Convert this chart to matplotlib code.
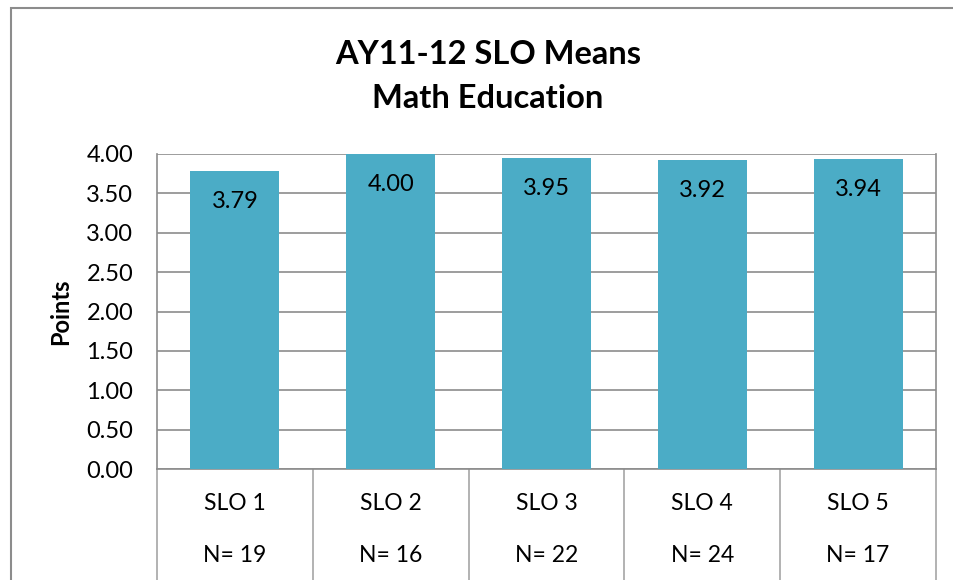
import matplotlib.pyplot as plt
from matplotlib.transforms import blended_transform_factory
from matplotlib.patches import Rectangle

# Data
categories = ["SLO 1", "SLO 2", "SLO 3", "SLO 4", "SLO 5"]
means = [3.79, 4.00, 3.95, 3.92, 3.94]
counts = [19, 16, 22, 24, 17]
yticks = [0.0, 0.5, 1.0, 1.5, 2.0, 2.5, 3.0, 3.5, 4.0]

plt.rcParams["font.family"] = ["Lato", "DejaVu Sans"]

W, H = 954, 580
fig = plt.figure(figsize=(W / 100, H / 100), dpi=100)

# outer chart frame (cut off at right and bottom like the reference)
fig.patches.append(Rectangle((11 / W, -0.1), 1.2, (H - 8) / H + 0.1,
                             transform=fig.transFigure, fill=False,
                             edgecolor="#8c8c8c", linewidth=1.5))

left, right, top, bottom = 157, 936, 154, 469
ax = fig.add_axes([left / W, (H - bottom) / H, (right - left) / W, (bottom - top) / H])

x = range(len(categories))
ax.bar(x, means, width=0.57, color="#4BACC6", zorder=3)
ax.set_xlim(-0.5, len(categories) - 0.5)
ax.set_ylim(0, 4)
ax.set_yticks(yticks)
ax.set_yticklabels([f"{v:.2f}" for v in yticks], fontsize=17)
ax.tick_params(axis="y", length=0, pad=17)
ax.set_xticks([])
ax.grid(axis="y", color="#8c8c8c", linewidth=1.2, zorder=0)
for s in ["left", "right", "bottom"]:
    ax.spines[s].set_color("#8c8c8c")
    ax.spines[s].set_linewidth(1.2)
ax.spines["top"].set_visible(False)

ax.set_ylabel("Points", fontsize=17, fontweight="bold", labelpad=10)

# value labels inside bar tops
for xi, v in zip(x, means):
    ax.annotate(f"{v:.2f}", (xi, v), xytext=(0, -22), textcoords="offset points",
                ha="center", va="center", fontsize=17)

# category table below the axis
tr = blended_transform_factory(ax.transData, fig.transFigure)
for b in [i - 0.5 for i in range(len(categories) + 1)]:
    ax.plot([b, b], [0, (H - bottom) / H], transform=tr, color="#a6a6a6",
            linewidth=1.2, clip_on=False)
for xi, c, n in zip(x, categories, counts):
    ax.text(xi, (H - 503) / H, c, transform=tr, ha="center", va="center", fontsize=16.5)
    ax.text(xi, (H - 555) / H, f"N= {n}", transform=tr, ha="center", va="center", fontsize=16.5)

fig.text(488 / W, (H - 54) / H, "AY11-12 SLO Means", ha="center", va="center",
         fontsize=23.5, fontweight="bold")
fig.text(488 / W, (H - 99) / H, "Math Education", ha="center", va="center",
         fontsize=23.5, fontweight="bold")

fig.savefig("out.png", dpi=100)
